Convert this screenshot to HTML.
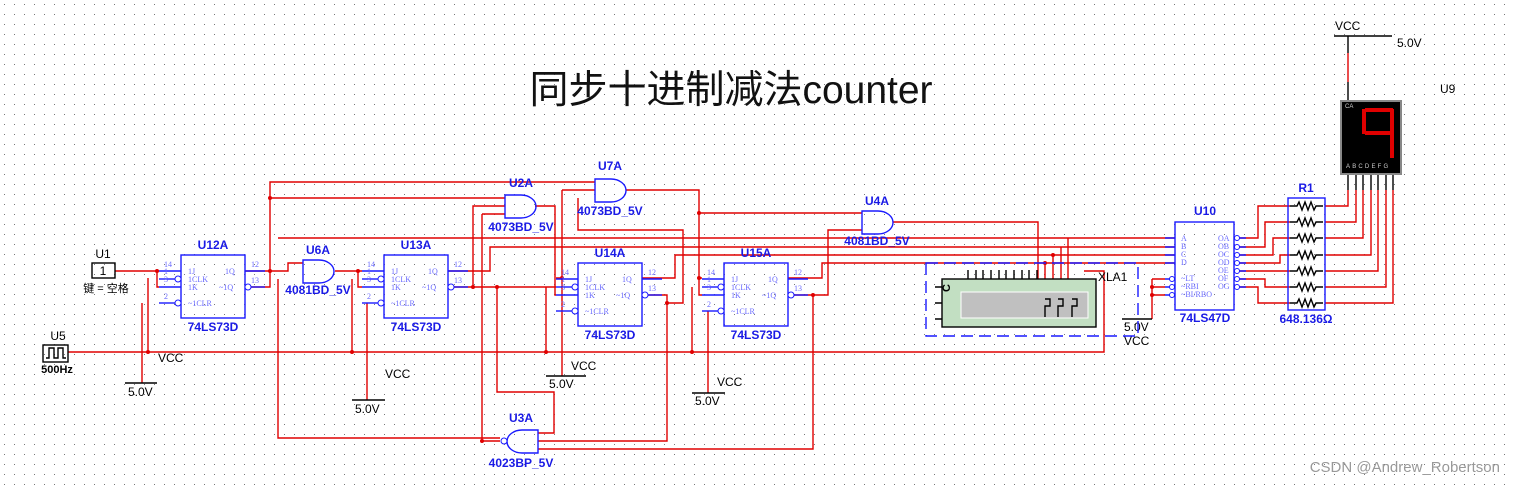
<!DOCTYPE html>
<html><head><meta charset="utf-8"><style>
html,body{margin:0;padding:0;background:#fff;}
svg{display:block;font-family:"Liberation Sans",Arial,sans-serif;}
.r{stroke:#e00000;stroke-width:1.4;fill:none}
.b{stroke:#1a1aff;stroke-width:1.4;fill:none}
.k{stroke:#000;stroke-width:1.4;fill:none}
.lb{fill:#1a1ae6;font-weight:bold;font-size:12px;text-anchor:middle}
.pn{fill:#6a6aff;font-size:8px;font-family:"Liberation Serif",serif}
.bk{fill:#000;font-size:12px}
</style></head><body>
<svg width="1514" height="486" viewBox="0 0 1514 486" xmlns="http://www.w3.org/2000/svg">
<defs>
<pattern id="g" width="10" height="10" patternUnits="userSpaceOnUse"><rect x="4" y="4" width="1" height="1" fill="#777"/></pattern>
<g id="ff">
 <rect x="0" y="0" width="64" height="63" class="b"/>
 <line x1="-22" y1="16" x2="0" y2="16" class="b"/>
 <line x1="-22" y1="24" x2="-6" y2="24" class="b"/>
 <line x1="-22" y1="32" x2="0" y2="32" class="b"/>
 <line x1="-22" y1="48" x2="-6" y2="48" class="b"/>
 <circle cx="-3" cy="24" r="3" fill="#fff" stroke="#1a1aff"/>
 <circle cx="-3" cy="48" r="3" fill="#fff" stroke="#1a1aff"/>
 <line x1="64" y1="16" x2="84" y2="16" class="b"/>
 <line x1="70" y1="32" x2="84" y2="32" class="b"/>
 <circle cx="67" cy="32" r="3" fill="#fff" stroke="#1a1aff"/>
 <text class="pn" x="7" y="19">1J</text><text class="pn" x="7" y="27">1CLK</text><text class="pn" x="7" y="35">1K</text><text class="pn" x="7" y="51">~1CLR</text>
 <text class="pn" x="44" y="19">1Q</text><text class="pn" x="38" y="35">~1Q</text>
 <text class="pn" x="-17" y="12">14</text><text class="pn" x="-17" y="19">1</text><text class="pn" x="-17" y="27">3</text><text class="pn" x="-17" y="44">2</text>
 <text class="pn" x="70" y="12">12</text><text class="pn" x="70" y="28">13</text>
</g>
<g id="and">
 <path d="M0,0 H16 A15,11.5 0 0 1 16,23 H0 Z" class="b"/>
</g>
</defs>
<rect width="1514" height="486" fill="url(#g)"/>

<text x="731" y="103" font-size="39" text-anchor="middle" font-family="'Liberation Sans','Noto Sans CJK SC',sans-serif" fill="#111">同步十进制减法counter</text>

<g class="r">
<path d="M115,271H159M157,271V287H159"/>
<path d="M68,352H1104V271H1084"/>
<path d="M148,278V352M142,303V383"/>
<path d="M245,271H288V263H303M245,287H270V182H595M270,198H505"/>
<path d="M278,279V438H500M278,238H1175"/>
<path d="M335,271H362M358,271V287H362M352,279V352M367,303V400"/>
<path d="M448,271H490V247H1175"/>
<path d="M448,287H556M473,287V206H505M497,287V392H554V433H538"/>
<path d="M482,214H505M482,214V441H500"/>
<path d="M535,206H555V295H556"/>
<path d="M562,190H595M562,190V376M562,278H556"/>
<path d="M578,198V230H683V303H667"/>
<path d="M642,295H667V441H538"/>
<path d="M626,190H699V295H702M699,213H862M699,278H702"/>
<path d="M546,287V352M692,287V352M708,311V393"/>
<path d="M642,278H675V255H1175"/>
<path d="M788,278H822V263H1175"/>
<path d="M788,295H828V230H862M813,295V449H538"/>
<path d="M893,222H1038V279"/>
<path d="M1068,238V279M1061,247V279M1053,255V279M1045,263V279"/>
<path d="M1152,279H1165M1152,287H1165M1152,295H1165M1152,279V319"/>
<path d="M1234,238H1258V206H1290M1234,247H1265V222H1290M1234,255H1273V238H1290M1234,263H1280V255H1290M1234,271H1290M1234,279H1265V287H1290M1234,287H1258V303H1290"/>
<path d="M1325,206H1348V190M1325,222H1356V190M1325,238H1363V190M1325,255H1371V190M1325,271H1378V190M1325,287H1386V190M1325,303H1393V190"/>
<path d="M1348,53V82"/>
</g>
<g fill="#e00000">
<circle cx="157" cy="271" r="2"/><circle cx="148" cy="352" r="2"/><circle cx="270" cy="198" r="2"/><circle cx="270" cy="271" r="2"/>
<circle cx="358" cy="271" r="2"/><circle cx="352" cy="352" r="2"/><circle cx="473" cy="287" r="2"/><circle cx="497" cy="287" r="2"/>
<circle cx="482" cy="441" r="2"/><circle cx="562" cy="278" r="2"/><circle cx="546" cy="352" r="2"/><circle cx="667" cy="303" r="2"/>
<circle cx="699" cy="213" r="2"/><circle cx="699" cy="278" r="2"/><circle cx="692" cy="352" r="2"/><circle cx="813" cy="295" r="2"/>
<circle cx="1045" cy="263" r="2"/><circle cx="1053" cy="255" r="2"/><circle cx="1152" cy="287" r="2"/><circle cx="1152" cy="295" r="2"/>
</g>

<rect x="92" y="263" width="23" height="15" class="k"/>
<text x="103" y="275" font-size="12" text-anchor="middle">1</text>
<text x="103" y="258" class="bk" text-anchor="middle">U1</text>
<text x="106" y="292" font-size="11" text-anchor="middle" font-family="'Liberation Sans','Noto Sans CJK SC',sans-serif">键 = 空格</text>
<rect x="43" y="345" width="25" height="17" class="k"/>
<path d="M46,358H49V348H54V358H58V348H63V358H66" class="k" stroke-width="1"/>
<text x="58" y="340" class="bk" text-anchor="middle">U5</text>
<text x="57" y="373" font-size="11" text-anchor="middle" font-weight="bold">500Hz</text>

<use href="#ff" x="181" y="255"/><text class="lb" x="213" y="249">U12A</text><text class="lb" x="213" y="331">74LS73D</text>
<use href="#ff" x="384" y="255"/><text class="lb" x="416" y="249">U13A</text><text class="lb" x="416" y="331">74LS73D</text>
<use href="#ff" x="578" y="263"/><text class="lb" x="610" y="257">U14A</text><text class="lb" x="610" y="339">74LS73D</text>
<use href="#ff" x="724" y="263"/><text class="lb" x="756" y="257">U15A</text><text class="lb" x="756" y="339">74LS73D</text>

<use href="#and" x="303" y="260"/><text class="lb" x="318" y="254">U6A</text><text class="lb" x="318" y="294">4081BD_5V</text>
<use href="#and" x="505" y="195"/><text class="lb" x="521" y="187">U2A</text><text class="lb" x="521" y="231">4073BD_5V</text>
<use href="#and" x="595" y="179"/><text class="lb" x="610" y="170">U7A</text><text class="lb" x="610" y="215">4073BD_5V</text>
<use href="#and" x="862" y="211"/><text class="lb" x="877" y="205">U4A</text><text class="lb" x="877" y="245">4081BD_5V</text>
<path d="M538,430H522 A15,11.5 0 0 0 522,453H538Z" class="b"/>
<circle cx="504" cy="441" r="3" fill="#fff" stroke="#1a1aff"/>
<text class="lb" x="521" y="422">U3A</text><text class="lb" x="521" y="467">4023BP_5V</text>

<g class="k">
<path d="M125,383H157M352,400H385M546,376H586M692,393H725M1122,319H1152"/>
<path d="M1334,36H1392M1348,36V53M1348,82V101"/>
</g>
<text x="128" y="396" class="bk">5.0V</text><text x="158" y="362" class="bk">VCC</text>
<text x="355" y="413" class="bk">5.0V</text><text x="385" y="378" class="bk">VCC</text>
<text x="549" y="388" class="bk">5.0V</text><text x="571" y="370" class="bk">VCC</text>
<text x="695" y="405" class="bk">5.0V</text><text x="717" y="386" class="bk">VCC</text>
<text x="1124" y="331" class="bk">5.0V</text><text x="1124" y="345" class="bk">VCC</text>
<text x="1335" y="30" class="bk">VCC</text><text x="1397" y="47" class="bk" font-size="11">5.0V</text>

<rect x="926" y="263" width="212" height="73" fill="none" stroke="#1a1aff" stroke-width="1.4" stroke-dasharray="12,6"/>
<rect x="942" y="279" width="154" height="48" fill="#c2dfc2" stroke="#000" stroke-width="1.4"/>
<rect x="961" y="292" width="127" height="26" fill="#c0c0c0" stroke="#fff" stroke-width="1"/>
<g class="k" stroke-width="1">
<path d="M968,270V279M976,270V279M983,270V279M991,270V279M999,270V279M1006,270V279M1014,270V279M1022,270V279M1029,270V279M1037,270V279"/>
<path d="M935,287H942M935,303H942M935,319H942"/>
<path d="M1045,299H1050V306H1045V317M1058,299H1063V306H1058V317M1072,299H1077V306H1072V317"/>
</g>
<text x="1098" y="281" font-size="12">XLA1</text>
<text x="950" y="292" font-size="11" transform="rotate(-90 950 292)" font-weight="bold">C</text>

<rect x="1175" y="222" width="59" height="88" class="b"/>
<g class="b" stroke-width="1.2"><path d="M1165,238H1175M1165,247H1175M1165,255H1175M1165,263H1175M1165,279H1171M1165,287H1171M1165,295H1171"/>
<path d="M1238,238H1246M1238,247H1246M1238,255H1246M1238,263H1246M1238,271H1246M1238,279H1246M1238,287H1246"/></g>
<g fill="#fff" stroke="#1a1aff"><circle cx="1172" cy="279" r="2.5"/><circle cx="1172" cy="287" r="2.5"/><circle cx="1172" cy="295" r="2.5"/>
<circle cx="1237" cy="238" r="2.5"/><circle cx="1237" cy="247" r="2.5"/><circle cx="1237" cy="255" r="2.5"/><circle cx="1237" cy="263" r="2.5"/><circle cx="1237" cy="271" r="2.5"/><circle cx="1237" cy="279" r="2.5"/><circle cx="1237" cy="287" r="2.5"/></g>
<g class="pn"><text x="1181" y="241">A</text><text x="1181" y="249">B</text><text x="1181" y="257">C</text><text x="1181" y="265">D</text>
<text x="1181" y="281">~LT</text><text x="1181" y="289">~RBI</text><text x="1181" y="297">~BI/RBO</text>
<text x="1218" y="241">OA</text><text x="1218" y="249">OB</text><text x="1218" y="257">OC</text><text x="1218" y="265">OD</text><text x="1218" y="273">OE</text><text x="1218" y="281">OF</text><text x="1218" y="289">OG</text></g>
<text class="lb" x="1205" y="215">U10</text><text class="lb" x="1205" y="322">74LS47D</text>

<rect x="1288" y="198" width="37" height="112" class="b"/>
<g class="k" stroke-width="1">
<path d="M1290,206H1297l2,-4l3,8l3,-8l3,8l3,-8l3,8l2,-4H1323"/>
<path d="M1290,222H1297l2,-4l3,8l3,-8l3,8l3,-8l3,8l2,-4H1323"/>
<path d="M1290,238H1297l2,-4l3,8l3,-8l3,8l3,-8l3,8l2,-4H1323"/>
<path d="M1290,255H1297l2,-4l3,8l3,-8l3,8l3,-8l3,8l2,-4H1323"/>
<path d="M1290,271H1297l2,-4l3,8l3,-8l3,8l3,-8l3,8l2,-4H1323"/>
<path d="M1290,287H1297l2,-4l3,8l3,-8l3,8l3,-8l3,8l2,-4H1323"/>
<path d="M1290,303H1297l2,-4l3,8l3,-8l3,8l3,-8l3,8l2,-4H1323"/>
</g>
<text class="lb" x="1306" y="192">R1</text><text class="lb" x="1306" y="323">648.136Ω</text>

<rect x="1341" y="101" width="60" height="73" fill="#000" stroke="#888" stroke-width="2"/>
<g class="k"><path d="M1348,175V190M1356,175V190M1363,175V190M1371,175V190M1378,175V190M1386,175V190M1393,175V190"/></g>
<g fill="#e00000"><rect x="1365" y="108" width="28" height="4"/><rect x="1362" y="109" width="4" height="25"/><rect x="1390" y="109" width="4" height="25"/><rect x="1365" y="131" width="28" height="4"/><rect x="1390" y="133" width="4" height="25"/></g>
<text x="1345" y="108" font-size="6" fill="#ccc">CA</text>
<text x="1346" y="168" font-size="6" fill="#ccc" letter-spacing="2.2">ABCDEFG</text>
<text x="1440" y="93" class="bk" font-size="11">U9</text>

<text x="1500" y="472" font-size="15" fill="#999" text-anchor="end">CSDN @Andrew_Robertson</text>
</svg>
</body></html>
